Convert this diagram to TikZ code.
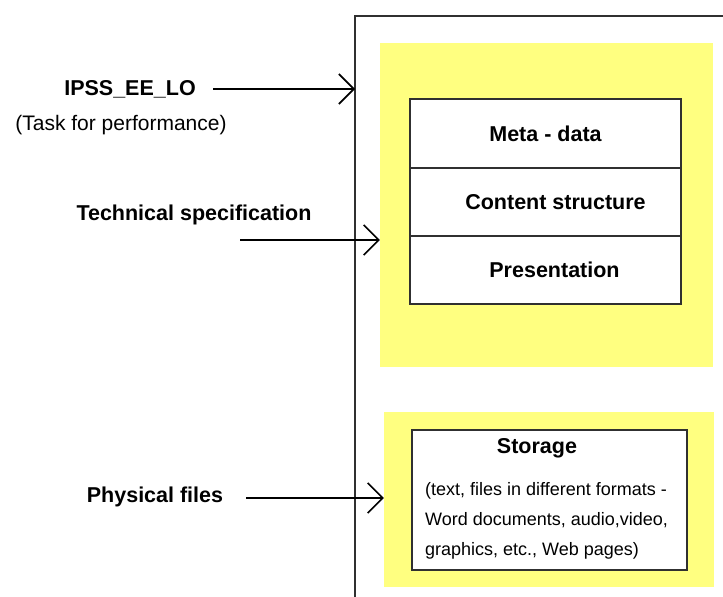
\documentclass[tikz,border=0pt]{standalone}
\usepackage{fontspec}
\setmainfont{Liberation Sans}
\usetikzlibrary{arrows.meta}
\definecolor{paleyellow}{HTML}{FFFF80}
\definecolor{linegray}{HTML}{303030}
\begin{document}
\begin{tikzpicture}[x=1pt,y=-1pt,
  boldlbl/.style={font=\fontsize{21.5}{26}\selectfont\bfseries, inner sep=0pt},
  reglbl/.style={font=\fontsize{21}{26}\selectfont, inner sep=0pt},
  ybox/.style={fill=paleyellow, draw=none, inner sep=0pt},
  cell/.style={draw=linegray, line width=2pt, fill=white, minimum width=271pt, inner sep=0pt, outer sep=0pt, font=\fontsize{21.5}{26}\selectfont\bfseries},
  outerline/.style={draw=linegray, line width=2.4pt},
  arr/.style={draw=black, line width=1.6pt, -{Straight Barb[length=15pt,width=30pt]}}
]
\useasboundingbox[fill=white] (0,0) rectangle (723,597);

% outer frame (runs off the right and bottom edges)
\draw[outerline] (723,16) coordinate (otr) -- (355,16) coordinate (otl) -- (355,597) coordinate (obl);

% yellow panels
\node[ybox, minimum width=333pt, minimum height=324pt] (y1) at (546.5,205) {};
\node[ybox, minimum width=330pt, minimum height=175pt] (y2) at (549,499.5) {};

% table of three rows
\node[cell, minimum height=69pt] (r1) at (545.5,133.5) {Meta - data};
\node[cell, minimum height=68pt, anchor=north] (r2) at (r1.south) {\hspace*{20pt}Content structure};
\node[cell, minimum height=68pt, anchor=north] (r3) at (r2.south) {\hspace*{18pt}Presentation};

% storage box
\node[draw=linegray, line width=2pt, fill=white, minimum width=275pt, minimum height=140pt, inner sep=0pt] (sb) at (549.5,500) {};
\node[boldlbl] (st) at (537,448) {Storage};
\node[font=\fontsize{18}{30}\selectfont, align=left, anchor=west, inner sep=0pt] (sd) at (425,521)
  {(text, files in different formats -\\Word documents, audio,video,\\graphics, etc., Web pages)};

% left labels
\node[boldlbl] (l1) at (130,89) {IPSS\_EE\_LO};
\node[reglbl] (l1b) at (121,125) {(Task for performance)};
\node[boldlbl] (l2) at (194,215) {Technical specification};
\node[boldlbl] (l3) at (155,497) {Physical files};

% arrows
\coordinate (a1s) at (213,89);
\coordinate (a1e) at (355,89);
\coordinate (a2s) at (240,240);
\coordinate (a3s) at (246,498);
\draw[arr] (a1s) -- (a1e);
\draw[arr] (a2s) -- (a2s -| y1.west);
\draw[arr] (a3s) -- (a3s -| y2.west);
\end{tikzpicture}
\end{document}
